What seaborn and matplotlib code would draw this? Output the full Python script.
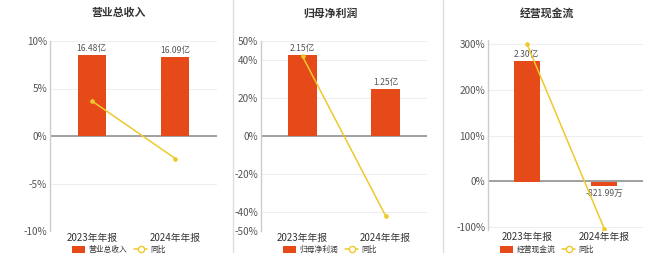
import matplotlib
matplotlib.use('Agg')
import matplotlib.pyplot as plt
import seaborn as sns
from matplotlib.patches import Patch
from matplotlib.lines import Line2D

sns.set_theme(style='white')
plt.rcParams['font.family'] = ['Noto Sans CJK SC', 'DejaVu Sans']

# ---- data ----
categories = ['2023年年报', '2024年年报']
titles = ['营业总收入', '归母净利润', '经营现金流']
revenue = [16.48, 16.09]            # 亿
net_profit = [2.15, 1.25]           # 亿
cash_flow = [2.30, -0.082199]       # 亿
revenue_labels = ['16.48亿', '16.09亿']
profit_labels = ['2.15亿', '1.25亿']
cash_labels = ['2.30亿', '-821.99万']
revenue_yoy = [3.7, -2.37]          # %
profit_yoy = [41.9, -41.86]
cash_yoy = [301.0, -103.6]
revenue_ticks = [-10, -5, 0, 5, 10]
profit_ticks = [-50, -40, -20, 0, 20, 40, 50]
cash_ticks = [-100, 0, 100, 200, 300]

bar_values = [revenue, net_profit, cash_flow]
bar_labels = [revenue_labels, profit_labels, cash_labels]
yoy_values = [revenue_yoy, profit_yoy, cash_yoy]
pct_ticks = [revenue_ticks, profit_ticks, cash_ticks]

# ---- layout / style ----
W, H = 660, 257
BAR_COLOR = '#E64A19'
LINE_COLOR = '#EEC92C'
pct_lims = [(-10, 10), (-50, 50), (-106.5, 308.7)]
bar_lims = [(-19.34, 19.34), (-2.52, 2.52), (-0.912, 2.70)]
axes_px = [(50, 41, 217, 231), (261, 41, 427, 231), (488, 40, 643, 230)]
title_cx = [119, 330, 547]
sep_x = [233, 443]

fig = plt.figure(figsize=(W / 100, H / 100), dpi=100)

for i in range(3):
    x0, y0, x1, y1 = axes_px[i]
    ax = fig.add_axes([x0 / W, 1 - y1 / H, (x1 - x0) / W, (y1 - y0) / H])
    axb = ax.twinx()
    axl = ax.twinx()

    sns.barplot(x=categories, y=bar_values[i], ax=axb, color=BAR_COLOR,
                saturation=1, width=0.34, edgecolor='none', linewidth=0)
    axb.bar_label(axb.containers[0], labels=bar_labels[i], padding=1.5,
                  fontsize=6.2, color='#555555')

    sns.pointplot(x=categories, y=yoy_values[i], ax=axl, color=LINE_COLOR,
                  markers='o', markersize=2.5, linewidth=1.1)

    for a in (ax, axb, axl):
        a.set_xlim(-0.5, 1.5)
        a.set_xlabel('')
        a.set_ylabel('')
    ax.set_ylim(*pct_lims[i])
    axl.set_ylim(*pct_lims[i])
    axb.set_ylim(*bar_lims[i])
    axb.set_yticks([])
    axl.set_yticks([])
    for a in (axb, axl):
        for s in a.spines.values():
            s.set_visible(False)

    ax.set_yticks(pct_ticks[i])
    ax.set_yticklabels([f'{t}%' for t in pct_ticks[i]])
    ax.set_xticks([0, 1])
    ax.set_xticklabels(categories)
    ax.tick_params(axis='y', length=0, pad=2, labelsize=7.2, labelcolor='#555555')
    ax.tick_params(axis='x', length=0, pad=1.5, labelsize=7.0, labelcolor='#333333')
    ax.yaxis.grid(True, color='#eeeeee', linewidth=0.8)
    ax.set_axisbelow(True)
    for s in ['top', 'right', 'bottom']:
        ax.spines[s].set_visible(False)
    ax.spines['left'].set_color('#cccccc')
    ax.spines['left'].set_linewidth(1)
    ax.axhline(0, color='#999999', linewidth=1.3, zorder=1)

    fig.text(title_cx[i] / W, 1 - 13 / H, titles[i], ha='center', va='center',
             fontsize=7.8, fontweight='bold', color='#333333')

    handles = [Patch(facecolor=BAR_COLOR, edgecolor='none', label=titles[i]),
               Line2D([], [], color=LINE_COLOR, marker='o', markerfacecolor='white',
                      markeredgecolor=LINE_COLOR, markersize=4.5, linewidth=1.1, label='同比')]
    fig.legend(handles=handles, loc='center', bbox_to_anchor=(title_cx[i] / W, 1 - 250 / H),
               ncol=2, frameon=False, fontsize=5.6, handlelength=1.7, handleheight=1.0,
               columnspacing=0.9, handletextpad=0.4, labelcolor='#333333',
               borderpad=0.1)

for sx in sep_x:
    fig.add_artist(Line2D([sx / W, sx / W], [1 - 252 / H, 1.0], color='#dddddd',
                          linewidth=1, transform=fig.transFigure))

fig.savefig('out.png', dpi=100)
